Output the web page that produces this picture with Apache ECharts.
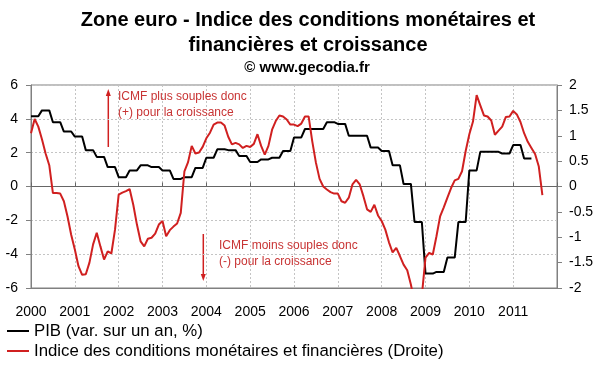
<!DOCTYPE html>
<html><head><meta charset="utf-8">
<script src="https://cdn.jsdelivr.net/npm/echarts@6/dist/echarts.min.js"></script>
<style>html,body{margin:0;padding:0;background:#fff}#c{width:600px;height:372px}</style>
</head><body><div id="c"></div>
<script>
// ---- Data ----
const titleLines = ['Zone euro - Indice des conditions monétaires et', 'financières et croissance'];
const sourceText = '© www.gecodia.fr';
const pibName = 'PIB (var. sur un an, %)';
const icmfName = 'Indice des conditions monétaires et financières (Droite)';
const noteUp = ['ICMF plus souples donc', '(+) pour la croissance'];
const noteDown = ['ICMF moins souples donc', '(-) pour la croissance'];
const startYear = 2000;
const endYear = 2012;
const leftAxis = { min: -6, max: 6, step: 2 };
const rightAxis = { min: -2, max: 2, step: 0.5 };

// GDP y/y, quarterly, from 2000Q1 (left axis)
const pibQuarterly = [
  4.15, 4.5, 3.8, 3.25,
  2.95, 2.15, 1.75, 1.15,
  0.55, 0.95, 1.25, 1.15,
  0.95, 0.45, 0.55, 1.1,
  1.7, 2.2, 2.15, 1.8,
  1.45, 1.6, 1.7, 2.1,
  2.9, 3.4, 3.4, 3.8,
  3.7, 3.0, 3.0, 2.3,
  2.1, 1.25, 0.15, -2.1,
  -5.15, -5.05, -4.2, -2.1,
  0.95, 2.05, 2.05, 1.95,
  2.45, 1.65
];

// Monetary & financial conditions index, monthly, from Jan 2000 (right axis)
const icmfMonthly = [
  1.05, 1.33, 1.18, 0.93, 0.65, 0.42, -0.13, -0.13, -0.14, -0.29, -0.59, -0.95,
  -1.24, -1.57, -1.74, -1.73, -1.5, -1.14, -0.91, -1.18, -1.44, -1.28, -1.32, -0.85,
  -0.16, -0.12, -0.09, -0.05, -0.36, -0.75, -1.08, -1.18, -1.03, -1.01, -0.93, -0.75,
  -0.68, -0.98, -0.86, -0.79, -0.73, -0.52, 0.3, 0.48, 0.8, 0.65, 0.67, 0.78,
  0.95, 1.06, 1.22, 1.26, 1.26, 1.2, 0.98, 0.83, 0.86, 0.83, 0.76, 0.8,
  0.78, 0.84, 1.03, 0.8, 0.63, 0.8, 1.12, 1.29, 1.4, 1.38, 1.32, 1.22,
  1.22, 1.19, 1.24, 1.38, 1.38, 0.89, 0.47, 0.15, 0.0, -0.06, -0.11, -0.14,
  -0.14, -0.29, -0.32, -0.22, 0.04, 0.13, 0.04, -0.19, -0.45, -0.5, -0.36, -0.57,
  -0.68, -0.85, -1.1, -1.3, -1.21, -1.37, -1.54, -1.65, -1.93, -2.3, -2.5, -2.15,
  -1.4, -1.31, -1.34, -0.98, -0.59, -0.41, -0.22, -0.03, 0.12, 0.15, 0.3, 0.7,
  1.03, 1.28, 1.8, 1.6, 1.4, 1.38, 1.3, 1.02, 1.1, 1.18, 1.37, 1.38,
  1.49, 1.42, 1.27, 1.05, 0.88, 0.76, 0.64, 0.4, -0.17
];

// ---- Build series points (time in decimal years) ----
const icmfPoints = icmfMonthly.map((v, i) => [startYear + i / 12, v]);
const pibPoints = pibQuarterly.flatMap((v, i) => [
  [startYear + i / 4, v],
  [startYear + i / 4 + 2 / 12, v]
]);

const FONT = '"Liberation Sans", Arial, sans-serif';
const RED = '#d02020';
const NOTE_RED = '#c83434';
const FRAME = '#808080';
const GRIDC = '#c4c4c4';

const chart = echarts.init(document.getElementById('c'), null, { renderer: 'canvas' });

function arrow(x, yFrom, yTo) {
  const dir = yTo < yFrom ? -1 : 1;
  return [
    { type: 'line', shape: { x1: x, y1: yFrom, x2: x, y2: yTo - dir * 5 }, style: { stroke: RED, lineWidth: 1.5 } },
    { type: 'polygon', shape: { points: [[x, yTo], [x - 2.5, yTo - dir * 7], [x + 2.5, yTo - dir * 7]] }, style: { fill: RED } }
  ];
}

chart.setOption({
  animation: false,
  backgroundColor: '#fff',
  textStyle: { fontFamily: FONT },
  grid: { left: 31, right: 43, top: 85, bottom: 84, show: true, borderColor: FRAME, borderWidth: 1, backgroundColor: 'transparent' },
  legend: {
    orient: 'vertical', left: 7, top: 321, padding: 0, itemGap: 0,
    itemWidth: 22, itemHeight: 2, icon: 'rect',
    textStyle: { fontSize: 16.8, color: '#000', lineHeight: 20, fontFamily: FONT },
    data: [pibName, icmfName]
  },
  xAxis: [
    {
      type: 'value', min: startYear, max: endYear, interval: 1,
      axisLine: { show: true, onZero: false, lineStyle: { color: FRAME } },
      axisTick: { show: false },
      axisLabel: { fontSize: 14, color: '#000', margin: 17, fontFamily: FONT,
        formatter: v => (v < endYear ? String(v) : '') },
      splitLine: { show: true, lineStyle: { color: GRIDC, type: [2, 2], width: 1 } }
    },
    {
      type: 'value', min: startYear, max: endYear, interval: 1, position: 'bottom',
      axisLine: { show: true, onZero: true, lineStyle: { color: '#666' } },
      axisTick: { show: true, inside: true, length: 4, lineStyle: { color: '#666' } },
      axisLabel: { show: false },
      splitLine: { show: false }
    }
  ],
  yAxis: [
    {
      type: 'value', position: 'left', min: leftAxis.min, max: leftAxis.max, interval: leftAxis.step,
      axisLine: { show: true, onZero: false, lineStyle: { color: FRAME } },
      axisTick: { show: true, length: 5, lineStyle: { color: FRAME } },
      axisLabel: { fontSize: 14, color: '#000', margin: 13, fontFamily: FONT },
      splitLine: { show: true, lineStyle: { color: GRIDC, type: [2, 2], width: 1 } }
    },
    {
      type: 'value', position: 'right', min: rightAxis.min, max: rightAxis.max, interval: rightAxis.step,
      axisLine: { show: true, onZero: false, lineStyle: { color: FRAME } },
      axisTick: { show: true, length: 5, lineStyle: { color: FRAME } },
      axisLabel: { fontSize: 14, color: '#000', margin: 12, fontFamily: FONT },
      splitLine: { show: false }
    }
  ],
  series: [
    {
      name: pibName, type: 'line', xAxisIndex: 0, yAxisIndex: 0, data: pibPoints,
      symbol: 'none', showSymbol: false, clip: true,
      lineStyle: { color: '#000', width: 2 }, itemStyle: { color: '#000' }, z: 3
    },
    {
      name: icmfName, type: 'line', xAxisIndex: 0, yAxisIndex: 1, data: icmfPoints,
      symbol: 'none', showSymbol: false, clip: true,
      lineStyle: { color: RED, width: 2 }, itemStyle: { color: RED }, z: 4
    }
  ],
  graphic: [
    { type: 'text', x: 308, y: 20.5, style: { text: titleLines[0], font: 'bold 20px ' + FONT, fill: '#000', align: 'center', verticalAlign: 'middle' } },
    { type: 'text', x: 308, y: 45.5, style: { text: titleLines[1], font: 'bold 20px ' + FONT, fill: '#000', align: 'center', verticalAlign: 'middle' } },
    { type: 'text', x: 307, y: 67.5, style: { text: sourceText, font: 'bold 15px ' + FONT, fill: '#000', align: 'center', verticalAlign: 'middle' } },
    { type: 'text', x: 118, y: 96.7, z: 10, style: { text: noteUp[0], font: '12px ' + FONT, fill: NOTE_RED, align: 'left', verticalAlign: 'middle' } },
    { type: 'text', x: 118, y: 112.7, z: 10, style: { text: noteUp[1], font: '12px ' + FONT, fill: NOTE_RED, align: 'left', verticalAlign: 'middle' } },
    { type: 'text', x: 219, y: 245.7, z: 10, style: { text: noteDown[0], font: '12px ' + FONT, fill: NOTE_RED, align: 'left', verticalAlign: 'middle' } },
    { type: 'text', x: 219, y: 262, z: 10, style: { text: noteDown[1], font: '12px ' + FONT, fill: NOTE_RED, align: 'left', verticalAlign: 'middle' } },
    ...arrow(108.3, 147, 89),
    ...arrow(203.3, 234, 281)
  ]
});
</script>
</body></html>
